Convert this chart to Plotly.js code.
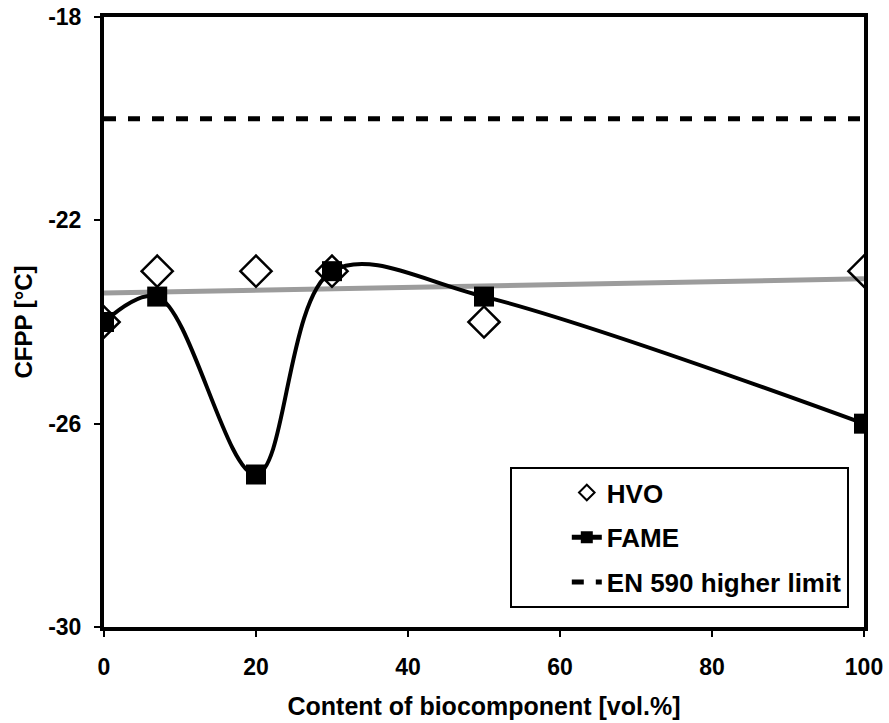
<!DOCTYPE html>
<html><head><meta charset="utf-8">
<script src="https://cdn.plot.ly/plotly-3.0.1.min.js"></script>
<style>body{margin:0;background:#fff}#c{width:889px;height:723px}</style>
</head><body><div id="c"></div>
<script>
const hvoX = [0, 7, 20, 30, 50, 100];
const hvoY = [-24, -23, -23, -23, -24, -23];
const fameX = [0, 7, 20, 30, 50, 100];
const fameY = [-24, -23.5, -27, -23, -23.5, -26];
const trendX = [0, 100];
const trendY = [-23.43, -23.15];
const limitX = [0, 100];
const limitY = [-20, -20];
const xTicks = [0, 20, 40, 60, 80, 100];
const xTickText = ['0', '20', '40', '60', '80', '100'];
const yTicks = [-30, -26, -22, -18];
const yTickText = ['-30', '-26', '-22', '-18'];

const fam = '"Liberation Sans", Arial, sans-serif';
const bold = a => a.map(s => '<b>' + s + '</b>');

const traces = [
  {x: trendX, y: trendY, mode: 'lines', line: {color: '#9c9c9c', width: 5}, showlegend: false, hoverinfo: 'skip'},
  {x: hvoX, y: hvoY, mode: 'markers', name: '<b>HVO</b>', legendgroup: 'a', legendrank: 1,
   marker: {symbol: 'diamond-open', size: 24, color: '#000', line: {width: 2.5, color: '#000'}}},
  {x: fameX, y: fameY, mode: 'lines+markers', name: '<b>FAME</b>', legendgroup: 'b', legendrank: 2,
   line: {color: '#000', width: 4, shape: 'spline', smoothing: 1},
   marker: {symbol: 'square', size: 20, color: '#000'}},
  {x: limitX, y: limitY, mode: 'lines', name: '<b>EN 590 higher limit</b>', legendgroup: 'c', legendrank: 3,
   line: {color: '#000', width: 5, dash: '12px,12px'}}
];

const layout = {
  width: 889, height: 723,
  margin: {l: 104, r: 25, t: 17, b: 96},
  paper_bgcolor: '#fff', plot_bgcolor: '#fff',
  showlegend: true,
  legend: {x: 0.98, y: 0.031, xanchor: 'right', yanchor: 'bottom', bgcolor: '#fff', bordercolor: '#000', borderwidth: 2,
           font: {family: fam, size: 26, color: '#000'}, tracegroupgap: 8, itemsizing: 'constant', indentation: 55},
  xaxis: {range: [0, 100], tickvals: xTicks, ticktext: bold(xTickText), ticks: 'outside', ticklen: 6, tickwidth: 2, tickcolor: '#000',
          showline: true, linewidth: 4, linecolor: '#000', mirror: true, showgrid: false, zeroline: false,
          ticklabelstandoff: 10,
          tickfont: {family: fam, size: 23, color: '#000'},
          title: {text: '<b>Content of biocomponent [vol.%]</b>', font: {family: fam, size: 25, color: '#000'}, standoff: 20}},
  yaxis: {range: [-30, -18], tickvals: yTicks, ticktext: bold(yTickText), ticks: 'outside', ticklen: 6, tickwidth: 2, tickcolor: '#000',
          showline: true, linewidth: 4, linecolor: '#000', mirror: true, showgrid: false, zeroline: false,
          ticklabelstandoff: 8,
          tickfont: {family: fam, size: 23, color: '#000'},
          title: {text: '<b>CFPP [°C]</b>', font: {family: fam, size: 24, color: '#000'}, standoff: 10}}
};
Plotly.newPlot('c', traces, layout, {displayModeBar: false, staticPlot: true});
</script></body></html>
